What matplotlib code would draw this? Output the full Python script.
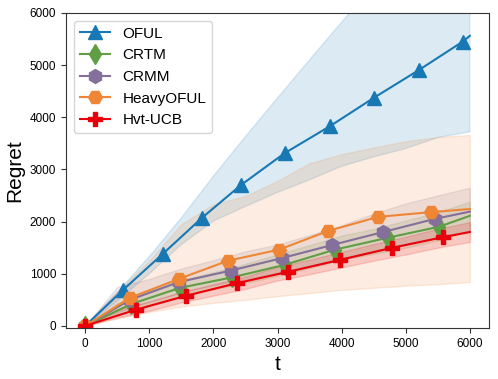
import matplotlib
matplotlib.use("Agg")
import matplotlib.pyplot as plt

plt.rcParams['font.family'] = ['Liberation Sans', 'DejaVu Sans']

# mean curves (points read at marker positions + end point)
oful_t = [0, 590, 1210, 1820, 2430, 3110, 3820, 4500, 5200, 5890, 6000]
oful_mean = [0, 690, 1380, 2070, 2700, 3310, 3830, 4370, 4900, 5450, 5560]

crtm_t = [0, 720, 1480, 2290, 3110, 3890, 4720, 5520, 6000]
crtm_mean = [0, 420, 730, 930, 1170, 1460, 1690, 1900, 2110]

crmm_t = [0, 700, 1460, 2270, 3070, 3850, 4650, 5450, 6000]
crmm_mean = [0, 500, 840, 1060, 1300, 1550, 1800, 2050, 2190]

heavy_t = [0, 700, 1460, 2230, 3020, 3790, 4570, 5390, 6000]
heavy_mean = [0, 540, 900, 1250, 1460, 1820, 2090, 2180, 2240]

hvt_t = [0, 790, 1580, 2370, 3160, 3970, 4780, 5580, 6000]
hvt_mean = [0, 310, 580, 820, 1035, 1265, 1495, 1700, 1800]

# confidence bands
band_t = [0, 500, 1000, 1500, 2000, 2500, 3000, 3500, 4000, 4500, 5000, 5500, 6000]
oful_low = [0, 480, 1000, 1560, 2010, 2290, 2560, 2800, 3060, 3240, 3400, 3610, 3720]
oful_high = [0, 640, 1330, 2070, 2870, 3630, 4370, 5100, 5820, 6530, 7250, 7960, 8680]
crtm_low = [0, 220, 400, 570, 700, 820, 960, 1110, 1270, 1380, 1500, 1640, 1820]
crtm_high = [0, 440, 680, 880, 1030, 1190, 1370, 1550, 1730, 1860, 2020, 2180, 2380]
crmm_low = [0, 260, 460, 640, 780, 900, 1010, 1130, 1260, 1410, 1560, 1690, 1820]
crmm_high = [0, 750, 900, 1100, 1260, 1430, 1560, 1740, 1930, 2150, 2350, 2500, 2650]
heavy_low = [0, 140, 270, 370, 440, 500, 570, 630, 690, 730, 770, 800, 840]
heavy_high = [0, 660, 1250, 1950, 2330, 2490, 2780, 3120, 3290, 3420, 3540, 3620, 3660]
hvt_low = [0, 160, 290, 450, 580, 710, 870, 990, 1120, 1250, 1370, 1500, 1610]
hvt_high = [0, 310, 470, 650, 800, 950, 1130, 1270, 1420, 1570, 1710, 1860, 1990]

labels = ["OFUL", "CRTM", "CRMM", "HeavyOFUL", "Hvt-UCB"]
colors = ["#1878b4", "#5f9e45", "#84709a", "#ef8636", "#e8000b"]
markers = ["^", "d", "h", "H", "P"]
ts = [oful_t, crtm_t, crmm_t, heavy_t, hvt_t]
means = [oful_mean, crtm_mean, crmm_mean, heavy_mean, hvt_mean]
lows = [oful_low, crtm_low, crmm_low, heavy_low, hvt_low]
highs = [oful_high, crtm_high, crmm_high, heavy_high, hvt_high]

fig = plt.figure(figsize=(4.98, 3.79), dpi=100)
ax = fig.add_axes([0.1325, 0.1346, 0.8495, 0.8314])

for lab, c, m, tt, mu, lo, hi in zip(labels, colors, markers, ts, means, lows, highs):
    ax.fill_between(band_t, lo, hi, color=c, alpha=0.15)
    ax.plot(tt, mu, color=c, marker=m, markersize=10, linewidth=1.5,
            markevery=list(range(len(tt) - 1)), label=lab)

ax.set_xlim(-300, 6300)
ax.set_ylim(-40, 6000)
ax.set_xticks([0, 1000, 2000, 3000, 4000, 5000, 6000])
ax.set_yticks([0, 1000, 2000, 3000, 4000, 5000, 6000])
ax.tick_params(labelsize=8.5, length=3.5, color="#333333")
for s in ax.spines.values():
    s.set_color("#333333")
ax.set_xlabel("t", fontsize=15)
ax.set_ylabel("Regret", fontsize=15)
ax.legend(loc="upper left", fontsize=11, handlelength=2.0)

fig.savefig("out.png", dpi=100)
